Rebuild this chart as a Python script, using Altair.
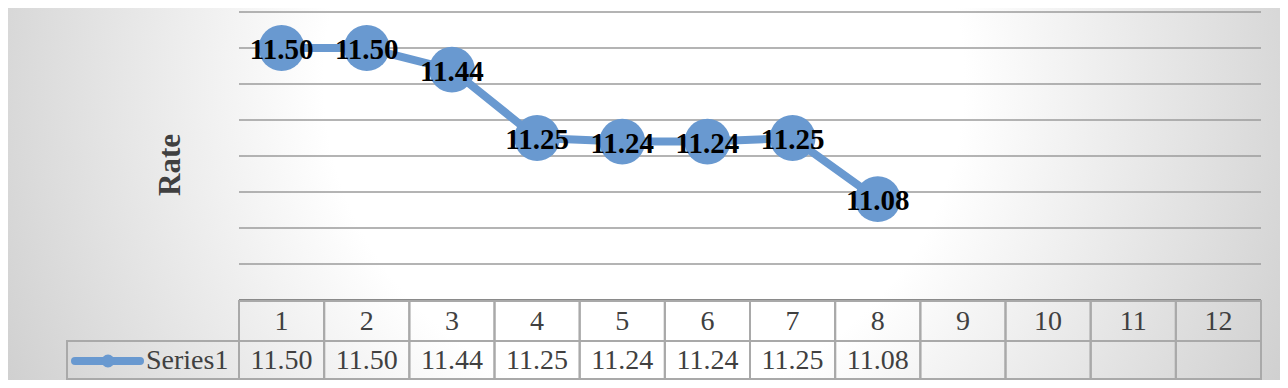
import altair as alt
import pandas as pd

# ---- data ----
categories = list(range(1, 13))
series_name = "Series1"
values = [11.50, 11.50, 11.44, 11.25, 11.24, 11.24, 11.25, 11.08]
grid_values = [10.9, 11.0, 11.1, 11.2, 11.3, 11.4, 11.5, 11.6]
y_domain = [10.8, 11.6]
axis_title = "Rate"

df = pd.DataFrame({"cat": categories[: len(values)], "val": values})
df["lab"] = [f"{v:.2f}" for v in values]
cells = pd.DataFrame({"cat": categories})
grid_df = pd.DataFrame({"val": grid_values})
base_df = pd.DataFrame({"val": [y_domain[0]]})

BLUE = "#6999d0"
SERIF = "Liberation Serif"
TXT = "#404040"
BORDER = "#a9a9a9"

W, H = 1022, 288

xs = alt.X("cat:O", scale=alt.Scale(type="band", domain=categories, paddingInner=0, paddingOuter=0), axis=None)
ys = alt.Y("val:Q", scale=alt.Scale(domain=y_domain, nice=False, zero=False), axis=None)

one = alt.Data(values=[{"k": 1}])

bg = alt.Chart(one).mark_rect(
    fill=alt.RadialGradient(
        gradient="radial",
        stops=[alt.GradientStop(offset=0, color="#ffffff"),
               alt.GradientStop(offset=0.4, color="#ffffff"),
               alt.GradientStop(offset=1, color="#c4c4c4")],
        x1=0.5, y1=0.425, r1=0, x2=0.5, y2=0.425, r2=0.5),
    strokeWidth=0,
).encode(x=alt.value(-239), x2=alt.value(1049), y=alt.value(-612), y2=alt.value(988))

grid = alt.Chart(grid_df).mark_rule(color="#9b9b9b", strokeWidth=1.5).encode(
    y=ys, x=alt.value(0), x2=alt.value(W))

base_rule = alt.Chart(base_df).mark_rule(color="#8a8a8a", strokeWidth=2).encode(
    y=ys, x=alt.value(0), x2=alt.value(W))

line = alt.Chart(df).mark_line(color=BLUE, strokeWidth=8).encode(x=xs, y=ys)
pts = alt.Chart(df).mark_circle(color=BLUE, opacity=1, size=2100).encode(x=xs, y=ys)
labels = alt.Chart(df).mark_text(font=SERIF, fontSize=29, fontWeight="bold", color="#000000",
                                 baseline="middle", dy=2).encode(x=xs, y=ys, text="lab:N")

title = alt.Chart(one).mark_text(text=axis_title, font=SERIF, fontSize=31, fontWeight="bold",
                                 color=TXT, angle=270, align="center", baseline="middle").encode(
    x=alt.value(-68), y=alt.value(153))

# table
hdr_cells = alt.Chart(cells).mark_rect(fillOpacity=0, stroke=BORDER, strokeWidth=2).encode(
    x=xs, y=alt.value(289), y2=alt.value(329))
val_cells = alt.Chart(cells).mark_rect(fillOpacity=0, stroke=BORDER, strokeWidth=2).encode(
    x=xs, y=alt.value(329), y2=alt.value(367))
hdr_text = alt.Chart(cells).mark_text(font=SERIF, fontSize=28, color=TXT, baseline="middle").encode(
    x=xs, y=alt.value(310), text="cat:O")
val_text = alt.Chart(df).mark_text(font=SERIF, fontSize=28, color=TXT, baseline="middle").encode(
    x=xs, y=alt.value(349), text="lab:N")

name_cell = alt.Chart(one).mark_rect(fillOpacity=0, stroke=BORDER, strokeWidth=2).encode(
    x=alt.value(-172), x2=alt.value(0), y=alt.value(329), y2=alt.value(367))
leg_line = alt.Chart(one).mark_rule(color=BLUE, strokeWidth=8, strokeCap="round").encode(
    x=alt.value(-164), x2=alt.value(-99), y=alt.value(349))
leg_pt = alt.Chart(one).mark_circle(color=BLUE, opacity=1, size=170).encode(
    x=alt.value(-131), y=alt.value(349))
leg_text = alt.Chart(one).mark_text(text=series_name, font=SERIF, fontSize=28, color=TXT,
                                    align="left", baseline="middle").encode(
    x=alt.value(-93), y=alt.value(349))

chart = alt.layer(
    bg, grid, base_rule, line, pts, labels, title,
    hdr_cells, val_cells, hdr_text, val_text,
    name_cell, leg_line, leg_pt, leg_text,
).properties(
    width=W, height=H,
    autosize=alt.AutoSizeParams(type="none"),
    padding={"left": 231, "top": 4, "right": 19, "bottom": 80},
).configure_view(strokeWidth=0)

chart.save("out.html", embed_options={"renderer": "svg", "actions": False})
